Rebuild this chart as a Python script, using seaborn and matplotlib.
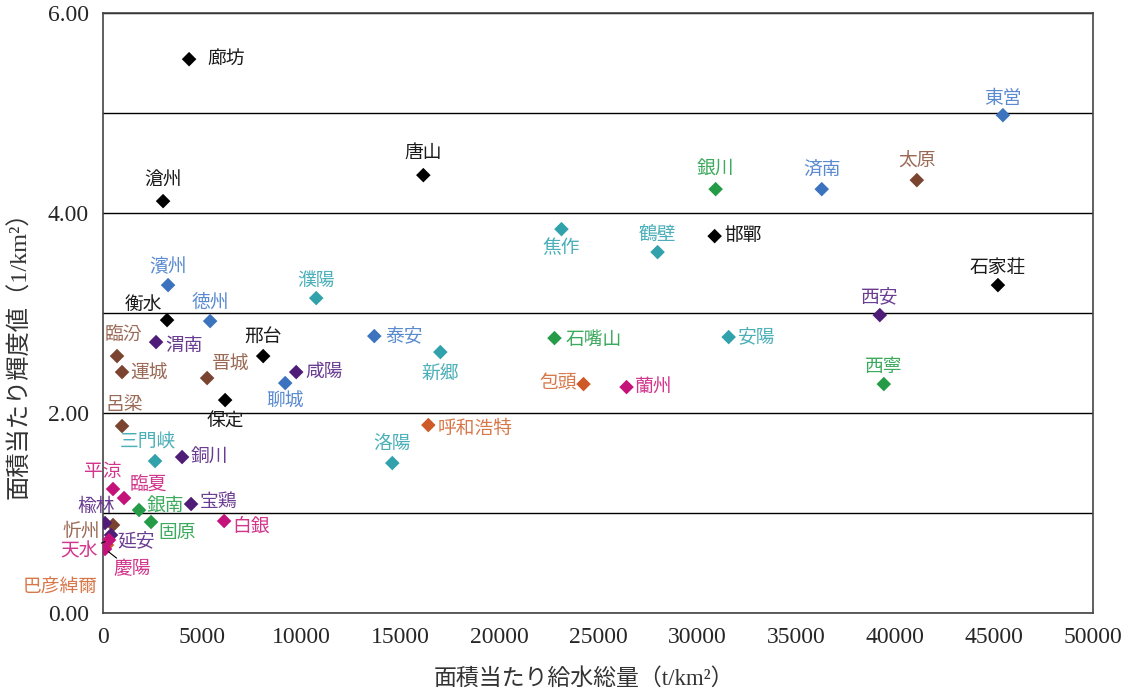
import pandas as pd
import matplotlib.pyplot as plt
import seaborn as sns

# city data
cities = ['廊坊', '唐山', '滄州', '邯鄲', '石家荘', '衡水', '邢台', '保定',
          '東営', '済南', '濱州', '徳州', '泰安', '聊城',
          '焦作', '鶴壁', '濮陽', '安陽', '新郷', '三門峡', '洛陽',
          '銀川', '石嘴山', '西寧', '銀南', '固原',
          '太原', '臨汾', '運城', '晋城', '呂梁', '忻州',
          '西安', '渭南', '咸陽', '銅川', '宝鶏', '楡林', '延安',
          '巴彦綽爾', '包頭', '呼和浩特',
          '蘭州', '平涼', '臨夏', '白銀', '天水', '慶陽']
water = [4348, 16179, 3034, 30892, 45201, 3236, 8090, 6168,
         45453, 36302, 3286, 5410, 13702, 9202,
         23156, 28010, 10769, 31600, 17039, 2629, 14612,
         30943, 22803, 39437, 1820, 2427,
         41105, 708, 961, 5258, 961, 506,
         39235, 2680, 9758, 3994, 4449, 101, 404,
         202, 24269, 16432,
         26443, 506, 1062, 6118, 303, 101]
light = [5.54, 4.38, 4.12, 3.77, 3.28, 2.93, 2.57, 2.13,
         4.98, 4.24, 3.28, 2.92, 2.77, 2.30,
         3.84, 3.61, 3.15, 2.76, 2.61, 1.52, 1.50,
         4.24, 2.75, 2.29, 1.03, 0.91,
         4.33, 2.57, 2.41, 2.35, 1.87, 0.88,
         2.98, 2.71, 2.41, 1.56, 1.09, 0.90, 0.78,
         0.68, 2.29, 1.88,
         2.26, 1.24, 1.15, 0.92, 0.73, 0.64]
group = (['河北'] * 8 + ['山東'] * 6 + ['河南'] * 7 + ['寧夏'] * 5 + ['山西'] * 6
         + ['陝西'] * 7 + ['内蒙古'] * 3 + ['甘粛'] * 6)

marker_colors = {'河北': '#000000', '山東': '#3B73BF', '河南': '#31A2AC', '寧夏': '#259B48',
                 '山西': '#7A4430', '陝西': '#4F1D78', '内蒙古': '#CD5A28', '甘粛': '#C4127A'}
text_colors = {'河北': '#1a1a1a', '山東': '#5A8AD0', '河南': '#4AAFB8', '寧夏': '#3CAA5C',
               '山西': '#9A6A56', '陝西': '#6A3C92', '内蒙古': '#D8784A', '甘粛': '#D2358C'}

# label placement (pixels from marker, alignment)
offsets = {
    '廊坊': (18, 0, 'left'), '東営': (0, 16, 'center'), '唐山': (0, 22, 'center'),
    '滄州': (0, 21, 'center'), '銀川': (0, 19, 'center'), '済南': (0, 18, 'center'),
    '太原': (0, 18, 'center'), '焦作': (0, -19, 'center'), '鶴壁': (0, 17, 'center'),
    '邯鄲': (10, 0, 'left'), '石家荘': (0, 17, 'center'), '濱州': (0, 18, 'center'),
    '濮陽': (0, 17, 'center'), '衡水': (-24, 15, 'center'), '徳州': (0, 18, 'center'),
    '西安': (0, 18, 'center'), '泰安': (11, 0, 'left'), '石嘴山': (11, -2, 'left'),
    '安陽': (9, 0, 'left'), '臨汾': (6, 20, 'center'), '渭南': (9, -4, 'left'),
    '邢台': (0, 18, 'center'), '新郷': (0, -23, 'center'), '運城': (8, -2, 'left'),
    '晋城': (24, 13, 'center'), '咸陽': (9, 0, 'left'), '聊城': (0, -19, 'center'),
    '包頭': (-7, 0, 'right'), '蘭州': (8, 0, 'left'), '西寧': (0, 17, 'center'),
    '保定': (0, -22, 'center'), '呂梁': (2, 21, 'center'), '呼和浩特': (9, -4, 'left'),
    '三門峡': (-7, 18, 'center'), '銅川': (9, -1, 'left'), '洛陽': (0, 19, 'center'),
    '平涼': (-10, 17, 'center'), '臨夏': (6, 12, 'left'), '銀南': (8, 3, 'left'),
    '宝鶏': (9, 2, 'left'), '固原': (7, -11, 'left'), '白銀': (8, -6, 'left'),
    '楡林': (-9, 16, 'center'), '忻州': (-13, -7, 'right'), '延安': (6, -6, 'left'),
    '天水': (-11, -12, 'right'), '慶陽': (8, -21, 'left'), '巴彦綽爾': (-9, -43, 'right'),
}
leaders = ['天水', '慶陽']

df = pd.DataFrame({'city': cities, 'water': water, 'light': light, 'group': group})

sns.set_style('white')
plt.rcParams['font.family'] = ['Liberation Serif', 'Noto Sans CJK JP']

fig, ax = plt.subplots(figsize=(11.32, 6.95), dpi=100)
fig.subplots_adjust(left=0.091, right=0.9655, top=0.981, bottom=0.118)

sns.scatterplot(data=df, x='water', y='light', hue='group', palette=marker_colors,
                marker='D', s=55, edgecolor='none', legend=False, ax=ax, zorder=3)

for _, r in df.iterrows():
    dx, dy, ha = offsets[r['city']]
    arrow = None
    if r['city'] in leaders:
        arrow = dict(arrowstyle='-', color='black', lw=0.8, shrinkA=0, shrinkB=3)
    ax.annotate(r['city'], (r['water'], r['light']), xytext=(dx, dy),
                textcoords='offset pixels', ha=ha, va='center', fontsize=13.5,
                color=text_colors[r['group']], arrowprops=arrow, zorder=4)

ax.set_xlim(0, 50000)
ax.set_ylim(0, 6)
ax.set_xticks(range(0, 50001, 5000))
ax.set_yticks([0, 1, 2, 3, 4, 5, 6])
ax.set_yticklabels(['0.00', '', '2.00', '', '4.00', '', '6.00'])
ax.grid(axis='y', color='black', linewidth=1)
ax.tick_params(axis='x', direction='in', length=7, labelsize=17, pad=10, color='#444444')
ax.tick_params(axis='y', direction='in', length=0, labelsize=17, pad=10)
for s in ax.spines.values():
    s.set_color('#444444')
    s.set_linewidth(1.2)

ax.set_xlabel('面積当たり給水総量（t/km²）', fontsize=16.5, color='#333333')
ax.set_ylabel('面積当たり輝度値（1/km²）', fontsize=17.5, color='#333333')
ax.xaxis.set_label_coords(0.486, -0.092)
ax.yaxis.set_label_coords(-0.073, 0.44)

plt.savefig('out.png')
